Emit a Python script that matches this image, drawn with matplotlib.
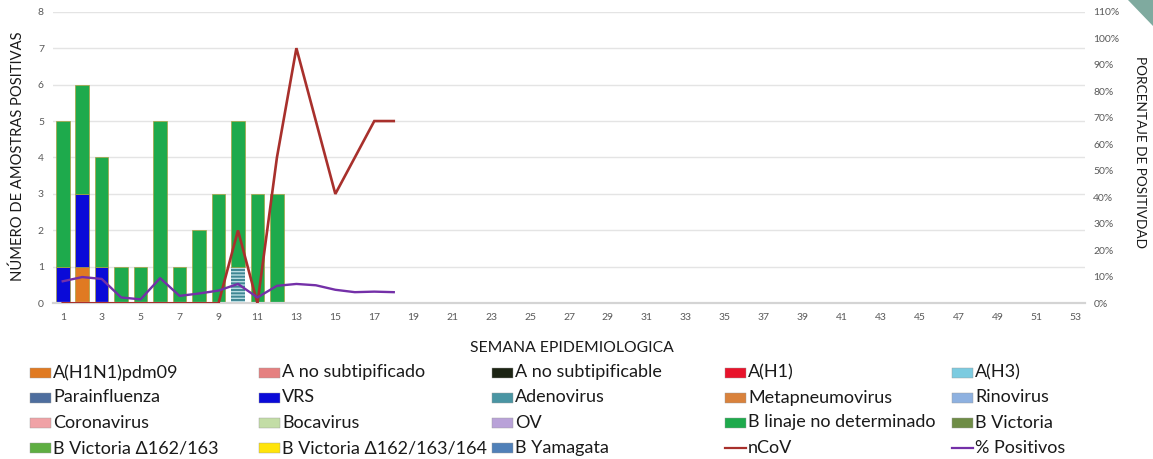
import matplotlib
matplotlib.use("Agg")
import matplotlib.pyplot as plt
from matplotlib.patches import Rectangle, Polygon
from matplotlib.lines import Line2D
from matplotlib.ticker import FuncFormatter, MultipleLocator

plt.rcParams['font.family'] = ['Lato', 'DejaVu Sans']

# ---------------- data ----------------
bar_weeks = [1, 2, 3, 4, 5, 6, 7, 8, 9, 10, 11, 12]
h1n1_pdm09 = [0, 1, 0, 0, 0, 0, 0, 0, 0, 0, 0, 0]
vrs        = [1, 2, 1, 0, 0, 0, 0, 0, 0, 0, 0, 0]
adenovirus = [0, 0, 0, 0, 0, 0, 0, 0, 0, 1, 0, 0]
b_linaje   = [4, 3, 3, 1, 1, 5, 1, 2, 3, 4, 3, 3]

line_weeks = [1, 2, 3, 4, 5, 6, 7, 8, 9, 10, 11, 12, 13, 14, 15, 16, 17, 18]
ncov       = [0, 0, 0, 0, 0, 0, 0, 0, 0, 2, 0, 4, 7, 5, 3, 4, 5, 5]
pct_pos    = [8.3, 9.9, 9.2, 2.2, 1.5, 9.5, 2.8, 3.7, 4.8, 7.3, 2.2, 6.6,
              7.3, 6.8, 5.1, 4.2, 4.4, 4.2]

x_ticks = list(range(1, 54, 2))

legend_labels = ["A(H1N1)pdm09", "A no subtipificado", "A no subtipificable", "A(H1)", "A(H3)",
                 "Parainfluenza", "VRS", "Adenovirus", "Metapneumovirus", "Rinovirus",
                 "Coronavirus", "Bocavirus", "OV", "B linaje no determinado", "B Victoria",
                 "B Victoria \u0394162/163", "B Victoria \u0394162/163/164", "B Yamagata", "nCoV", "% Positivos"]
legend_colors = ["#E07A22", "#E58080", "#1C2414", "#E8132B", "#7CCBE0",
                 "#4E6E9E", "#0A0AD8", "#4A95A3", "#D9823C", "#8EB1E0",
                 "#F0A2A6", "#C3DDA6", "#B9A2D8", "#1EAA4C", "#6E8C46",
                 "#5EAE42", "#FFE40A", "#5080B8", "#A8302C", "#7430A8"]
legend_kind = ["patch"] * 18 + ["line", "line"]

# ---------------- figure ----------------
W, H = 1153, 459
fig = plt.figure(figsize=(W / 100, H / 100), dpi=100)
ax = fig.add_axes([53 / W, 1 - 303.3 / H, 1032 / W, 291.6 / H])

bw = 0.7
edge = "#A8A040"
bottom = [0] * len(bar_weeks)
ax.bar(bar_weeks, h1n1_pdm09, bw, bottom=bottom, color=legend_colors[0], edgecolor=edge, linewidth=0.5, zorder=2)
bottom = [b + v for b, v in zip(bottom, h1n1_pdm09)]
ax.bar(bar_weeks, vrs, bw, bottom=bottom, color=legend_colors[6], edgecolor=edge, linewidth=0.5, zorder=2)
bottom = [b + v for b, v in zip(bottom, vrs)]
plt.rcParams['hatch.linewidth'] = 1.0
ax.bar(bar_weeks, adenovirus, bw, bottom=bottom, color="#3F8794", edgecolor="#B8DCE2",
       hatch="-----", linewidth=0, zorder=2)
bottom = [b + v for b, v in zip(bottom, adenovirus)]
ax.bar(bar_weeks, b_linaje, bw, bottom=bottom, color=legend_colors[13], edgecolor=edge, linewidth=0.5, zorder=2)

ax.plot(line_weeks, ncov, color=legend_colors[18], lw=1.9, zorder=3, solid_joinstyle='miter')

ax.set_xlim(0.5, 53.5)
ax.set_ylim(0, 8)
ax.yaxis.set_major_locator(MultipleLocator(1))
ax.set_xticks(x_ticks)
ax.grid(axis='y', color="#E4E4E4", lw=1.0, zorder=0)
ax.set_axisbelow(True)
for s in ["top", "right", "left"]:
    ax.spines[s].set_visible(False)
ax.spines["bottom"].set_color("#D4D4D4")
ax.spines["bottom"].set_linewidth(1.6)
ax.tick_params(axis='both', length=0, labelsize=7.5, labelcolor="#595959")
ax.tick_params(axis='x', pad=7)
ax.tick_params(axis='y', pad=6.5)

ax2 = ax.twinx()
ax2.plot(line_weeks, pct_pos, color=legend_colors[19], lw=1.7, zorder=3)
ax2.set_ylim(0, 110)
ax2.yaxis.set_major_locator(MultipleLocator(10))
ax2.yaxis.set_major_formatter(FuncFormatter(lambda v, p: f"{v:.0f}%"))
for s in ["top", "right", "left", "bottom"]:
    ax2.spines[s].set_visible(False)
ax2.tick_params(axis='y', length=0, labelsize=7.5, labelcolor="#595959", pad=6)

fig.text(18 / W, 1 - 156 / H, "NÚMERO DE AMOSTRAS POSITIVAS", rotation=90,
         ha='center', va='center', fontsize=10.6, color="#1a1a1a")
fig.text(1140 / W, 1 - 152 / H, "PORCENTAJE DE POSITIVDAD", rotation=270,
         ha='center', va='center', fontsize=9.8, color="#1a1a1a")
fig.text(572 / W, 1 - 348 / H, "SEMANA EPIDEMIOLOGICA",
         ha='center', va='center', fontsize=11.3, color="#1a1a1a")

# ---------------- legend (5 columns x 4 rows) ----------------
col_x = [30, 259, 492, 725, 952]
row_y = [372.5, 397.5, 422.5, 448]
for i, (lab, colr, kind) in enumerate(zip(legend_labels, legend_colors, legend_kind)):
    c, r = i % 5, i // 5
    x0, yc = col_x[c], row_y[r]
    if kind == "patch":
        fig.patches.append(Rectangle((x0 / W, 1 - (yc + 5) / H), 21 / W, 10 / H,
                                     transform=fig.transFigure, facecolor=colr,
                                     edgecolor="#9a9a9a", linewidth=0.3))
    else:
        fig.lines.append(Line2D([x0 / W, (x0 + 21) / W], [1 - yc / H, 1 - yc / H],
                                transform=fig.transFigure, color=colr, lw=1.6))
    fig.text((x0 + 23) / W, 1 - yc / H, lab, ha='left', va='center',
             fontsize=13, color="#1a1a1a")

# decorative corner triangle
fig.patches.append(Polygon([(1128 / W, 1.0), (1.0, 1.0), (1.0, 1 - 26 / H)], closed=True,
                           transform=fig.transFigure, facecolor="#7FAA9F", edgecolor='none'))

fig.savefig("out.png", dpi=100)
